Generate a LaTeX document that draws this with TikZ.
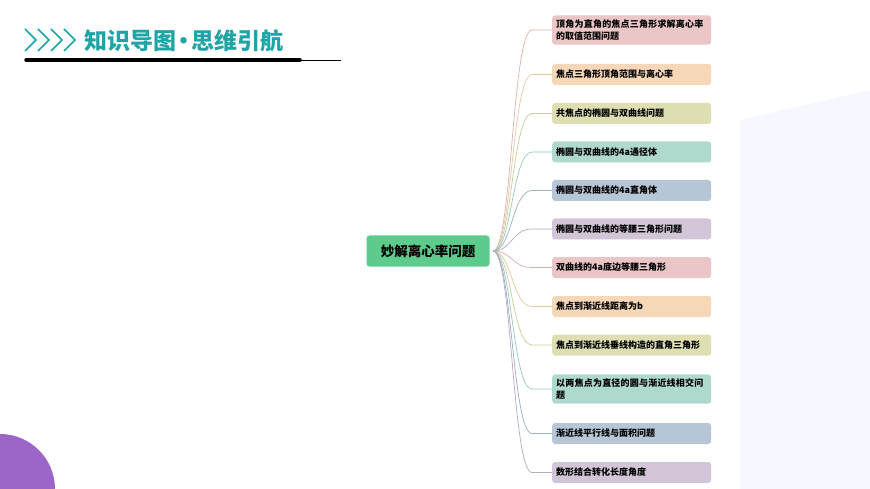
\documentclass[tikz,border=0pt]{standalone}
\usepackage{fontspec}
\setmainfont{Noto Sans CJK SC}
\XeTeXlinebreaklocale "zh"
\XeTeXlinebreakskip=0pt plus 1pt
\definecolor{teal1}{HTML}{1FA5A5}
\definecolor{cA}{HTML}{EBC6C6}\definecolor{lA}{HTML}{DDB0B0}
\definecolor{cB}{HTML}{F6D7B8}\definecolor{lB}{HTML}{E8C8A0}
\definecolor{cC}{HTML}{DDDFB3}\definecolor{lC}{HTML}{CACC98}
\definecolor{cD}{HTML}{AFD9CF}\definecolor{lD}{HTML}{98C8BC}
\definecolor{cE}{HTML}{B6C6D6}\definecolor{lE}{HTML}{9AAFC4}
\definecolor{cF}{HTML}{D1C5D7}\definecolor{lF}{HTML}{B8A8C2}
\definecolor{rootc}{HTML}{5DCB8C}
\begin{document}
\begin{tikzpicture}[x=1pt,y=-1pt,
 leaf/.style={rounded corners=3pt,minimum width=159pt,text width=151pt,align=left,inner sep=4pt,font=\fontsize{9}{12.5}\selectfont\bfseries,anchor=west,minimum height=21pt},
 link/.style={line width=0.7pt}]
\useasboundingbox (0,0) rectangle (870,489);
\fill[white] (0,0) rectangle (870,489);
\fill[violet!70!blue!60] (0,489) circle (55);
\fill[blue!3] (740,120) -- (870,90) -- (870,489) -- (740,489) -- cycle;
% header
\foreach \i in {0,13,26,39}{\draw[teal1,line width=1.6pt] (25+\i,29) -- (36+\i,40) -- (25+\i,51);}
\node[anchor=west,text=teal1,font=\fontsize{23}{23}\selectfont\bfseries,inner sep=0] (title) at (84,41) {知识导图\kern-4pt·\kern-4pt思维引航};
\draw[line width=3.5pt,line cap=round] (26,60) -- (300,60);
\draw[line width=0.6pt] (300,60) -- (341,60);
% root
\node[fill=rootc,rounded corners=3pt,minimum width=123pt,minimum height=31pt,font=\fontsize{13.5}{13.5}\selectfont\bfseries] (root) at (428,251) {妙解离心率问题};
\coordinate (o) at (493,251);
\foreach \n/\y/\c/\t in {
 1/30/A/{顶角为直角的焦点三角形求解离心率的取值范围问题},
 2/74.5/B/{焦点三角形顶角范围与离心率},
 3/113.5/C/{共焦点的椭圆与双曲线问题},
 4/152/D/{椭圆与双曲线的4a通径体},
 5/190.5/E/{椭圆与双曲线的4a直角体},
 6/229/F/{椭圆与双曲线的等腰三角形问题},
 7/267.5/A/{双曲线的4a底边等腰三角形},
 8/306.5/B/{焦点到渐近线距离为b},
 9/345/C/{焦点到渐近线垂线构造的直角三角形},
 10/389/D/{以两焦点为直径的圆与渐近线相交问题},
 11/433.5/E/{渐近线平行线与面积问题},
 12/472.5/F/{数形结合转化长度角度}}{
 \node[leaf,fill=c\c] (n\n) at (552,\y) {\t};
 \draw[link,l\c] (o) .. controls (512,251) and (512,\y) .. (532,\y) -- (n\n.west);
}
\end{tikzpicture}
\end{document}
